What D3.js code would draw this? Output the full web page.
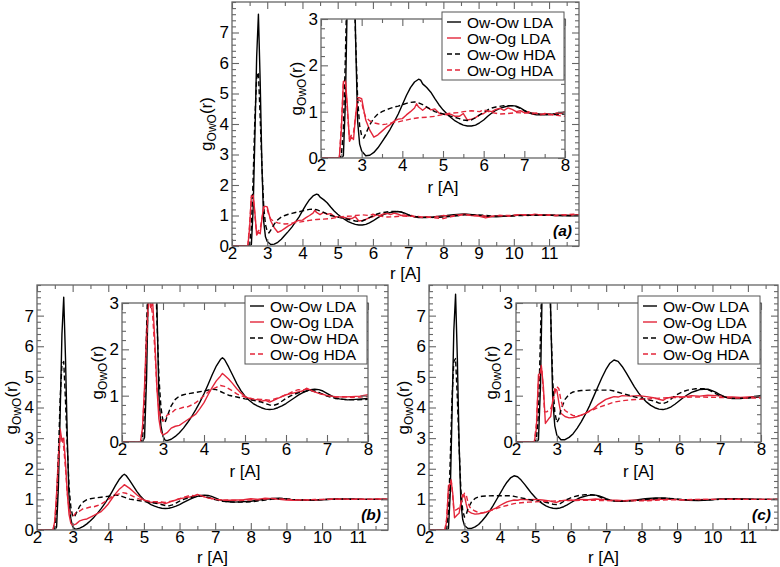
<!DOCTYPE html>
<html><head><meta charset="utf-8">
<script src="https://cdn.jsdelivr.net/npm/d3@7"></script>
<style>body{margin:0;background:#fff} text{font-family:"Liberation Sans",Arial,Helvetica,sans-serif}</style>
</head><body><svg id="c" width="780" height="567"></svg>
<script>
// ---------- data ----------
const seriesNames = ["Ow-Ow LDA", "Ow-Og LDA", "Ow-Ow HDA", "Ow-Og HDA"];
const panelLabels = ["(a)", "(b)", "(c)"];
const mainXTicks = [2,3,4,5,6,7,8,9,10,11];
const mainYTicks = [0,1,2,3,4,5,6,7];
const insetXTicks = [2,3,4,5,6,7,8];
const insetYTicks = [0,1,2,3];

const aOwOwLDA = [[2.0,0],[2.5,0],[2.55,0.05],[2.6,1.2],[2.65,3.6],[2.7,6.2],[2.75,7.6],[2.8,5.4],[2.85,2.6],[2.9,0.8],[2.95,0.3],[3.0,0.15],[3.1,0.05],[3.2,0.06],[3.3,0.12],[3.4,0.22],[3.5,0.35],[3.6,0.48],[3.7,0.62],[3.8,0.78],[3.9,0.95],[4.0,1.15],[4.1,1.35],[4.2,1.52],[4.3,1.64],[4.4,1.70],[4.45,1.68],[4.5,1.60],[4.6,1.52],[4.7,1.42],[4.8,1.28],[4.9,1.15],[5.0,1.04],[5.1,0.95],[5.2,0.87],[5.3,0.80],[5.4,0.75],[5.5,0.71],[5.6,0.69],[5.7,0.69],[5.8,0.71],[5.9,0.76],[6.0,0.82],[6.1,0.9],[6.2,0.97],[6.3,1.03],[6.4,1.07],[6.5,1.10],[6.6,1.12],[6.7,1.13],[6.8,1.12],[6.9,1.08],[7.0,1.03],[7.1,0.98],[7.2,0.95],[7.3,0.93],[7.5,0.93],[7.7,0.95],[7.9,0.98],[8.1,1.0],[8.3,1.03],[8.6,1.05],[8.9,1.02],[9.2,0.97],[9.5,0.96],[9.8,0.98],[10.1,1.01],[10.4,1.02],[10.8,1.02],[11.2,1.0],[11.6,0.99],[11.9,1.0]];
const aOwOgLDA = [[2.0,0],[2.45,0],[2.5,0.6],[2.55,1.65],[2.6,1.68],[2.65,1.1],[2.7,0.36],[2.75,0.45],[2.8,0.4],[2.85,0.9],[2.9,1.3],[2.95,1.3],[3.0,1.28],[3.05,1.05],[3.1,0.82],[3.2,0.6],[3.3,0.45],[3.4,0.5],[3.5,0.58],[3.6,0.66],[3.7,0.72],[3.8,0.8],[3.9,0.84],[4.0,0.85],[4.1,0.93],[4.2,1.0],[4.3,1.08],[4.35,1.17],[4.4,1.1],[4.5,1.03],[4.6,1.1],[4.7,1.04],[4.8,1.06],[4.9,0.97],[5.0,0.95],[5.1,0.93],[5.2,0.94],[5.3,0.9],[5.4,0.9],[5.5,0.96],[5.6,0.82],[5.7,0.84],[5.8,0.87],[5.9,0.93],[6.0,0.96],[6.1,1.02],[6.2,1.0],[6.3,1.05],[6.4,1.07],[6.5,1.03],[6.6,1.08],[6.7,1.05],[6.8,1.0],[6.9,1.02],[7.0,0.98],[7.1,1.0],[7.2,0.95],[7.3,0.97],[7.4,0.93],[7.5,0.96],[7.6,0.95],[7.7,0.93],[7.8,0.97],[7.9,0.96],[8.0,1.0],[8.2,0.97],[8.4,1.02],[8.6,1.04],[8.8,1.0],[9.0,0.98],[9.2,0.92],[9.4,0.97],[9.6,1.0],[9.8,0.97],[10.0,1.0],[10.2,1.03],[10.4,1.0],[10.6,1.04],[10.8,1.01],[11.0,1.03],[11.2,0.99],[11.4,1.02],[11.6,1.0],[11.8,1.03],[11.9,1.0]];
const aOwOwHDA = [[2.0,0],[2.45,0],[2.5,0.05],[2.55,0.6],[2.6,2.2],[2.65,4.2],[2.7,5.5],[2.75,5.7],[2.8,4.2],[2.85,2.6],[2.9,1.3],[2.95,0.7],[3.0,0.48],[3.05,0.43],[3.1,0.52],[3.2,0.72],[3.3,0.86],[3.4,0.95],[3.5,1.0],[3.6,1.04],[3.7,1.07],[3.8,1.1],[3.9,1.12],[4.0,1.15],[4.1,1.18],[4.2,1.2],[4.3,1.21],[4.4,1.19],[4.5,1.15],[4.6,1.1],[4.7,1.05],[4.8,1.0],[5.0,0.95],[5.2,0.9],[5.4,0.85],[5.5,0.82],[5.6,0.81],[5.7,0.82],[5.8,0.87],[5.9,0.93],[6.0,0.99],[6.1,1.04],[6.2,1.08],[6.3,1.1],[6.5,1.13],[6.7,1.13],[6.8,1.11],[6.9,1.07],[7.0,1.02],[7.1,0.98],[7.3,0.95],[7.5,0.94],[7.8,0.94],[8.0,0.95],[8.3,0.98],[8.6,1.02],[8.9,1.03],[9.2,1.0],[9.5,0.98],[9.8,0.98],[10.2,1.0],[10.6,1.01],[11.0,1.01],[11.5,1.0],[11.9,1.0]];
const aOwOgHDA = [[2.0,0],[2.45,0],[2.5,0.7],[2.55,1.6],[2.6,1.65],[2.65,1.0],[2.7,0.42],[2.75,0.5],[2.8,0.55],[2.85,0.9],[2.9,1.25],[2.95,1.25],[3.0,1.2],[3.05,1.0],[3.1,0.88],[3.2,0.8],[3.3,0.76],[3.4,0.74],[3.5,0.72],[3.6,0.73],[3.7,0.75],[3.8,0.77],[3.9,0.78],[4.0,0.8],[4.2,0.84],[4.4,0.87],[4.6,0.88],[4.8,0.9],[5.0,0.94],[5.2,0.97],[5.4,0.98],[5.5,1.0],[5.7,1.02],[5.9,1.0],[6.0,1.04],[6.2,0.98],[6.4,0.95],[6.6,0.96],[6.8,0.98],[7.0,0.97],[7.2,0.97],[7.4,0.95],[7.6,0.94],[7.8,0.92],[8.0,0.9],[8.2,0.96],[8.4,1.0],[8.6,1.03],[8.8,1.0],[9.0,1.0],[9.3,0.97],[9.6,1.0],[9.9,1.0],[10.2,1.02],[10.5,1.03],[10.8,1.02],[11.1,1.0],[11.4,1.02],[11.7,1.04],[11.9,1.02]];

const bOwOwLDA = [[2.0,0],[2.5,0],[2.55,0.1],[2.6,1.4],[2.65,3.8],[2.7,6.4],[2.75,7.6],[2.8,5.6],[2.85,3.0],[2.9,1.0],[2.95,0.35],[3.0,0.12],[3.05,0.04],[3.1,0.03],[3.2,0.06],[3.3,0.12],[3.4,0.2],[3.5,0.3],[3.6,0.42],[3.7,0.55],[3.8,0.7],[3.9,0.86],[4.0,1.04],[4.1,1.24],[4.2,1.45],[4.3,1.64],[4.4,1.78],[4.45,1.82],[4.5,1.78],[4.6,1.62],[4.7,1.44],[4.8,1.26],[4.9,1.11],[5.0,0.99],[5.1,0.9],[5.2,0.83],[5.3,0.78],[5.4,0.74],[5.5,0.71],[5.6,0.7],[5.7,0.71],[5.8,0.74],[5.9,0.78],[6.0,0.83],[6.1,0.89],[6.2,0.95],[6.3,1.01],[6.4,1.06],[6.5,1.1],[6.6,1.13],[6.7,1.14],[6.8,1.13],[6.9,1.1],[7.0,1.05],[7.1,1.0],[7.2,0.96],[7.3,0.93],[7.5,0.91],[7.7,0.92],[8.0,0.94],[8.3,0.99],[8.6,1.03],[8.8,1.04],[9.1,1.0],[9.4,0.97],[9.7,0.97],[10.0,0.99],[10.4,1.01],[10.8,1.01],[11.2,1.0],[11.6,1.0],[11.9,1.0]];
const bOwOgLDA = [[2.0,0],[2.45,0],[2.5,0.3],[2.55,1.2],[2.6,2.4],[2.65,3.3],[2.7,2.9],[2.75,3.0],[2.8,2.2],[2.85,1.2],[2.9,0.5],[2.95,0.22],[3.0,0.15],[3.1,0.2],[3.2,0.3],[3.3,0.34],[3.4,0.36],[3.5,0.42],[3.6,0.48],[3.7,0.54],[3.8,0.6],[3.9,0.72],[4.0,0.85],[4.1,1.02],[4.2,1.18],[4.3,1.32],[4.4,1.42],[4.45,1.48],[4.5,1.44],[4.6,1.36],[4.7,1.26],[4.8,1.15],[4.9,1.06],[5.0,0.98],[5.1,0.94],[5.2,0.9],[5.3,0.92],[5.4,0.88],[5.5,0.9],[5.6,0.86],[5.7,0.9],[5.8,0.94],[5.9,0.98],[6.0,1.02],[6.1,1.04],[6.2,1.06],[6.3,1.08],[6.4,1.1],[6.5,1.16],[6.6,1.12],[6.7,1.08],[6.8,1.05],[6.9,1.03],[7.0,1.0],[7.2,0.98],[7.4,0.97],[7.6,0.98],[7.8,0.99],[8.0,1.02],[8.2,1.0],[8.4,1.04],[8.6,1.02],[8.8,1.0],[9.0,0.98],[9.2,0.97],[9.5,0.99],[9.8,0.98],[10.1,1.0],[10.4,1.02],[10.7,1.0],[11.0,1.01],[11.3,1.0],[11.6,1.01],[11.9,1.0]];
const bOwOwHDA = [[2.0,0],[2.45,0],[2.5,0.05],[2.55,0.7],[2.6,2.4],[2.65,4.3],[2.7,5.4],[2.75,5.5],[2.8,4.2],[2.85,2.7],[2.9,1.4],[2.95,0.75],[3.0,0.45],[3.05,0.42],[3.1,0.55],[3.2,0.78],[3.3,0.92],[3.4,0.99],[3.5,1.02],[3.6,1.04],[3.8,1.07],[4.0,1.1],[4.2,1.14],[4.3,1.13],[4.4,1.09],[4.5,1.05],[4.6,1.01],[4.8,0.97],[5.0,0.93],[5.2,0.9],[5.4,0.86],[5.6,0.8],[5.7,0.79],[5.8,0.82],[5.9,0.88],[6.0,0.94],[6.1,0.99],[6.2,1.03],[6.3,1.06],[6.5,1.1],[6.6,1.11],[6.7,1.1],[6.8,1.07],[6.9,1.03],[7.0,0.99],[7.2,0.94],[7.4,0.92],[7.7,0.91],[8.0,0.92],[8.3,0.96],[8.6,1.01],[8.9,1.03],[9.2,1.0],[9.5,0.98],[9.8,0.98],[10.2,1.0],[10.6,1.01],[11.0,1.0],[11.5,1.0],[11.9,1.0]];
const bOwOgHDA = [[2.0,0],[2.45,0],[2.5,0.3],[2.55,1.1],[2.6,2.2],[2.65,3.0],[2.7,3.05],[2.75,2.7],[2.8,2.0],[2.85,1.2],[2.9,0.7],[2.95,0.5],[3.0,0.45],[3.05,0.5],[3.1,0.58],[3.2,0.62],[3.3,0.7],[3.4,0.72],[3.5,0.75],[3.6,0.76],[3.7,0.8],[3.8,0.85],[3.9,0.92],[4.0,1.0],[4.1,1.08],[4.2,1.14],[4.3,1.18],[4.4,1.22],[4.5,1.2],[4.6,1.15],[4.7,1.1],[4.8,1.04],[4.9,1.0],[5.0,0.97],[5.2,0.93],[5.4,0.92],[5.6,0.9],[5.8,0.95],[6.0,1.02],[6.2,1.1],[6.3,1.13],[6.4,1.12],[6.5,1.14],[6.6,1.12],[6.7,1.08],[6.8,1.05],[7.0,1.0],[7.2,0.97],[7.4,0.98],[7.6,0.96],[7.8,0.97],[8.0,0.98],[8.3,1.0],[8.6,1.03],[8.9,1.01],[9.2,0.99],[9.5,0.98],[9.8,1.0],[10.2,1.0],[10.6,1.01],[11.0,1.0],[11.5,1.01],[11.9,1.0]];

const cOwOwLDA = [[2.0,0],[2.5,0],[2.55,0.05],[2.6,1.2],[2.65,3.8],[2.7,6.5],[2.75,7.7],[2.8,5.6],[2.85,2.8],[2.9,0.9],[2.95,0.35],[3.0,0.15],[3.1,0.05],[3.2,0.05],[3.3,0.1],[3.4,0.18],[3.5,0.3],[3.6,0.44],[3.7,0.6],[3.8,0.78],[3.9,0.98],[4.0,1.18],[4.1,1.38],[4.2,1.56],[4.3,1.7],[4.4,1.77],[4.5,1.74],[4.6,1.63],[4.7,1.49],[4.8,1.34],[4.9,1.19],[5.0,1.06],[5.1,0.95],[5.2,0.86],[5.3,0.79],[5.4,0.74],[5.5,0.71],[5.6,0.7],[5.7,0.72],[5.8,0.76],[5.9,0.82],[6.0,0.89],[6.1,0.96],[6.2,1.02],[6.3,1.07],[6.4,1.1],[6.5,1.13],[6.6,1.14],[6.7,1.14],[6.8,1.11],[6.9,1.07],[7.0,1.02],[7.1,0.98],[7.2,0.95],[7.3,0.94],[7.5,0.94],[7.7,0.96],[7.9,0.99],[8.1,1.02],[8.4,1.05],[8.7,1.04],[9.0,1.0],[9.3,0.97],[9.6,0.96],[9.9,0.98],[10.2,1.01],[10.6,1.02],[11.0,1.01],[11.4,1.0],[11.9,1.0]];
const cOwOgLDA = [[2.0,0],[2.45,0],[2.5,0.3],[2.55,1.45],[2.6,1.5],[2.62,1.65],[2.67,1.2],[2.72,0.4],[2.8,0.5],[2.85,0.55],[2.9,0.9],[2.95,1.15],[3.0,1.12],[3.05,0.85],[3.1,0.62],[3.2,0.55],[3.3,0.52],[3.4,0.53],[3.5,0.55],[3.6,0.58],[3.7,0.62],[3.8,0.67],[3.9,0.72],[4.0,0.8],[4.1,0.86],[4.2,0.92],[4.3,0.95],[4.4,0.98],[4.5,0.97],[4.6,1.0],[4.8,0.99],[5.0,1.0],[5.2,0.98],[5.4,0.95],[5.5,0.92],[5.6,0.9],[5.7,0.95],[5.9,0.98],[6.1,0.97],[6.3,1.0],[6.5,0.99],[6.7,1.01],[6.9,1.0],[7.1,0.98],[7.3,0.97],[7.5,0.96],[7.7,0.97],[8.0,0.97],[8.3,0.99],[8.6,1.01],[8.9,1.0],[9.2,0.98],[9.5,0.99],[9.8,1.0],[10.2,1.0],[10.6,1.01],[11.0,1.0],[11.5,1.0],[11.9,1.0]];
const cOwOwHDA = [[2.0,0],[2.45,0],[2.5,0.05],[2.55,0.6],[2.6,2.3],[2.65,4.3],[2.7,5.5],[2.75,5.6],[2.8,4.3],[2.85,2.7],[2.9,1.3],[2.95,0.65],[3.0,0.42],[3.05,0.5],[3.1,0.7],[3.2,0.92],[3.3,1.03],[3.4,1.08],[3.5,1.1],[3.6,1.11],[3.8,1.12],[4.0,1.12],[4.2,1.12],[4.3,1.12],[4.4,1.1],[4.6,1.05],[4.8,1.0],[5.0,0.95],[5.2,0.92],[5.4,0.88],[5.5,0.84],[5.6,0.83],[5.7,0.86],[5.8,0.93],[5.9,1.0],[6.0,1.05],[6.1,1.09],[6.2,1.12],[6.4,1.15],[6.6,1.15],[6.7,1.13],[6.8,1.09],[6.9,1.04],[7.0,1.0],[7.2,0.95],[7.4,0.94],[7.7,0.95],[8.0,0.98],[8.3,1.02],[8.6,1.04],[8.9,1.02],[9.2,0.99],[9.5,0.97],[9.8,0.98],[10.2,1.0],[10.6,1.01],[11.0,1.0],[11.5,1.0],[11.9,1.0]];
const cOwOgHDA = [[2.0,0],[2.45,0],[2.5,0.4],[2.55,1.3],[2.6,1.55],[2.63,1.6],[2.67,1.1],[2.7,0.65],[2.75,0.65],[2.8,0.68],[2.85,0.72],[2.9,0.85],[2.95,1.05],[3.0,1.2],[3.05,1.15],[3.1,0.9],[3.15,0.75],[3.2,0.68],[3.3,0.62],[3.4,0.57],[3.5,0.56],[3.6,0.58],[3.7,0.62],[3.8,0.66],[3.9,0.7],[4.0,0.74],[4.2,0.8],[4.4,0.86],[4.6,0.89],[4.8,0.91],[5.0,0.92],[5.2,0.93],[5.4,0.94],[5.6,0.95],[5.8,0.96],[6.0,0.96],[6.3,0.97],[6.6,0.97],[7.0,0.96],[7.4,0.95],[7.7,0.95],[8.0,0.95],[8.4,0.97],[8.8,0.99],[9.2,0.99],[9.6,1.0],[10.0,1.0],[10.5,1.0],[11.0,1.0],[11.5,1.0],[11.9,1.0]];

// ---------- layout / style ----------
const colors = ["#000000", "#e3263a", "#000000", "#e3263a"];
const dashes = [null, null, "5,3", "5,3"];
const frameColor = "#666";
const panels = [
  {label: panelLabels[0], data: [aOwOwLDA, aOwOgLDA, aOwOwHDA, aOwOgHDA],
   main: {l: 232, t: 2, w: 347, h: 244}, inset: {l: 321, t: 19, w: 244, h: 139}},
  {label: panelLabels[1], data: [bOwOwLDA, bOwOgLDA, bOwOwHDA, bOwOgHDA],
   main: {l: 37, t: 285, w: 351, h: 245}, inset: {l: 122, t: 303, w: 246, h: 139}},
  {label: panelLabels[2], data: [cOwOwLDA, cOwOgLDA, cOwOwHDA, cOwOgHDA],
   main: {l: 429, t: 285, w: 349, h: 245}, inset: {l: 516, t: 303, w: 245, h: 139}}
];

const svg = d3.select("#c");
let clipId = 0;

function range(a, b, s) { const r = []; for (let v = a; v <= b + 1e-9; v += s) r.push(+v.toFixed(4)); return r; }

function drawPlot(parent, box, xDom, yDom, xT, yT, yMinor, data, withBg) {
  const g = parent.append("g").attr("transform", `translate(${box.l},${box.t})`);
  const x = d3.scaleLinear().domain(xDom).range([0, box.w]);
  const y = d3.scaleLinear().domain(yDom).range([box.h, 0]);
  if (withBg) g.append("rect").attr("width", box.w).attr("height", box.h).attr("fill", "#fff");
  const id = "clip" + (clipId++);
  g.append("clipPath").attr("id", id).append("rect").attr("width", box.w).attr("height", box.h);
  const line = d3.line().x(d => x(d[0])).y(d => y(d[1]));
  const cg = g.append("g").attr("clip-path", `url(#${id})`);
  data.forEach((s, i) => {
    cg.append("path").attr("d", line(s)).attr("fill", "none")
      .attr("stroke", colors[i]).attr("stroke-width", 1.4)
      .attr("stroke-dasharray", dashes[i]).attr("stroke-linejoin", "round");
  });
  const xMinor = range(xDom[0], xDom[1], 0.5).filter(v => !xT.includes(v));
  const yMinorV = range(yDom[0], yDom[1], yMinor).filter(v => !yT.some(t => Math.abs(t - v) < 1e-6));
  const styleAx = (sel) => { sel.select(".domain").remove(); sel.selectAll("line").attr("stroke", frameColor).attr("stroke-width", 1.1); sel.selectAll("text").attr("font-size", 17).attr("fill", "#000").attr("font-family", "Liberation Sans, Arial, sans-serif"); };
  // bottom
  g.append("g").attr("transform", `translate(0,${box.h})`).call(d3.axisBottom(x).tickValues(xT).tickSize(-7).tickPadding(1).tickFormat(d3.format("d"))).call(styleAx);
  g.append("g").attr("transform", `translate(0,${box.h})`).call(d3.axisBottom(x).tickValues(xMinor).tickSize(-4).tickFormat("")).call(styleAx);
  // top
  g.append("g").call(d3.axisTop(x).tickValues(xT).tickSize(-7).tickFormat("")).call(styleAx);
  g.append("g").call(d3.axisTop(x).tickValues(xMinor).tickSize(-4).tickFormat("")).call(styleAx);
  // left
  g.append("g").call(d3.axisLeft(y).tickValues(yT).tickSize(-7).tickPadding(3).tickFormat(d3.format("d"))).call(styleAx);
  g.append("g").call(d3.axisLeft(y).tickValues(yMinorV).tickSize(-4).tickFormat("")).call(styleAx);
  // right
  g.append("g").attr("transform", `translate(${box.w},0)`).call(d3.axisRight(y).tickValues(yT).tickSize(-7).tickFormat("")).call(styleAx);
  g.append("g").attr("transform", `translate(${box.w},0)`).call(d3.axisRight(y).tickValues(yMinorV).tickSize(-4).tickFormat("")).call(styleAx);
  g.append("rect").attr("width", box.w).attr("height", box.h).attr("fill", "none").attr("stroke", frameColor).attr("stroke-width", 1.3);
  return {g, x, y};
}

function yLabel(parent, cx, cy) {
  const t = parent.append("text").attr("transform", `translate(${cx},${cy}) rotate(-90)`)
    .attr("text-anchor", "middle").attr("font-size", 17).attr("dy", "0.3em");
  t.append("tspan").text("g");
  t.append("tspan").text("OwO").attr("font-size", 12).attr("dy", "0.35em");
  t.append("tspan").text("(r)").attr("dy", "-0.25em");
}
function xLabel(parent, cx, by) {
  parent.append("text").attr("x", cx).attr("y", by).attr("text-anchor", "middle").attr("font-size", 17).text("r [A]");
}

panels.forEach(p => {
  const m = drawPlot(svg, p.main, [2, 11.85], [0, 8], mainXTicks, mainYTicks, 0.2, p.data, false);
  xLabel(svg, p.main.l + p.main.w / 2, p.main.t + p.main.h + 33);
  yLabel(svg, p.main.l - 25, p.main.t + p.main.h / 2);
  svg.append("text").attr("x", p.main.l + p.main.w - 7).attr("y", p.main.t + p.main.h - 10)
    .attr("text-anchor", "end").attr("font-size", 15.5).attr("font-weight", "bold").attr("font-style", "italic").text(p.label);

  const ins = drawPlot(svg, p.inset, [2, 8], [0, 3], insetXTicks, insetYTicks, 0.2, p.data, true);
  xLabel(svg, p.inset.l + p.inset.w / 2, p.inset.t + p.inset.h + 35);
  yLabel(svg, p.inset.l - 24, p.inset.t + p.inset.h / 2);

  // legend
  const lw = 122, lh = 68;
  const lg = svg.append("g").attr("transform", `translate(${p.inset.l + p.inset.w - lw - 1},${p.inset.t - 7})`);
  lg.append("rect").attr("width", lw).attr("height", lh).attr("fill", "#fff").attr("stroke", "#555").attr("stroke-width", 1);
  seriesNames.forEach((n, i) => {
    const cy = 10 + i * 16;
    lg.append("line").attr("x1", 5).attr("x2", 19).attr("y1", cy).attr("y2", cy)
      .attr("stroke", colors[i]).attr("stroke-width", 1.4).attr("stroke-dasharray", dashes[i]);
    lg.append("text").attr("x", 25).attr("y", cy).attr("dy", "0.36em").attr("font-size", 15.5).text(n);
  });
});
</script></body></html>
